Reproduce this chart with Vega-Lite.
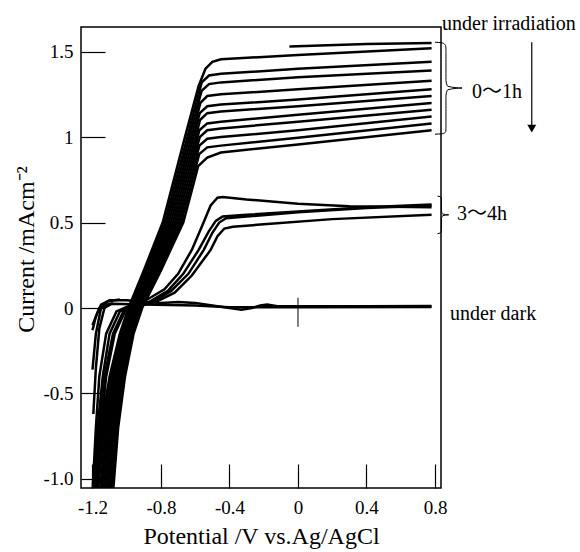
{
  "$schema": "https://vega.github.io/schema/vega-lite/v6.json",
  "width": 360,
  "height": 461,
  "autosize": "none",
  "padding": {"left": 81, "top": 27, "right": 139, "bottom": 64},
  "background": "white",
  "config": {
    "view": {"stroke": "black", "strokeWidth": 1.5},
    "axis": {
      "domain": false, "grid": false, "tickColor": "black", "tickWidth": 1.2, "tickSize": -24,
      "labelFont": "Liberation Serif", "labelFontSize": 19, "labelColor": "black",
      "titleFont": "Liberation Serif", "titleFontSize": 24, "titleFontWeight": "normal", "titleColor": "black"
    }
  },
  "datasets": {
    "curves": [
      {"c":"i0","o":1,"x":-1.19,"y":-1.08},{"c":"i0","o":2,"x":-1.15,"y":-0.7},{"c":"i0","o":3,"x":-1.10,"y":-0.4},{"c":"i0","o":4,"x":-1.04,"y":-0.15},{"c":"i0","o":5,"x":-0.99,"y":0},{"c":"i0","o":6,"x":-0.90,"y":0.22},{"c":"i0","o":7,"x":-0.79,"y":0.5},{"c":"i0","o":8,"x":-0.66,"y":1.0},{"c":"i0","o":9,"x":-0.58,"y":1.3},{"c":"i0","o":10,"x":-0.54,"y":1.40},{"c":"i0","o":11,"x":-0.50,"y":1.44},{"c":"i0","o":12,"x":-0.45,"y":1.455},{"c":"i0","o":13,"x":0,"y":1.48},{"c":"i0","o":14,"x":0.78,"y":1.52},
      {"c":"i0b","o":1,"x":-0.05,"y":1.53},{"c":"i0b","o":2,"x":0.4,"y":1.545},{"c":"i0b","o":3,"x":0.78,"y":1.55},
      {"c":"i1","o":1,"x":-1.18,"y":-1.08},{"c":"i1","o":2,"x":-1.14,"y":-0.7},{"c":"i1","o":3,"x":-1.09,"y":-0.4},{"c":"i1","o":4,"x":-1.03,"y":-0.15},{"c":"i1","o":5,"x":-0.98,"y":0},{"c":"i1","o":6,"x":-0.89,"y":0.22},{"c":"i1","o":7,"x":-0.778,"y":0.5},{"c":"i1","o":8,"x":-0.646,"y":1.0},{"c":"i1","o":9,"x":-0.589,"y":1.22},{"c":"i1","o":10,"x":-0.562,"y":1.32},{"c":"i1","o":11,"x":-0.52,"y":1.36},{"c":"i1","o":12,"x":-0.45,"y":1.37},{"c":"i1","o":13,"x":0,"y":1.40},{"c":"i1","o":14,"x":0.78,"y":1.44},
      {"c":"i2","o":1,"x":-1.17,"y":-1.08},{"c":"i2","o":2,"x":-1.13,"y":-0.7},{"c":"i2","o":3,"x":-1.08,"y":-0.4},{"c":"i2","o":4,"x":-1.024,"y":-0.15},{"c":"i2","o":5,"x":-0.974,"y":0},{"c":"i2","o":6,"x":-0.88,"y":0.22},{"c":"i2","o":7,"x":-0.766,"y":0.5},{"c":"i2","o":8,"x":-0.634,"y":1.0},{"c":"i2","o":9,"x":-0.590,"y":1.17},{"c":"i2","o":10,"x":-0.563,"y":1.27},{"c":"i2","o":11,"x":-0.52,"y":1.31},{"c":"i2","o":12,"x":-0.45,"y":1.32},{"c":"i2","o":13,"x":0,"y":1.35},{"c":"i2","o":14,"x":0.78,"y":1.39},
      {"c":"i3","o":1,"x":-1.157,"y":-1.08},{"c":"i3","o":2,"x":-1.12,"y":-0.7},{"c":"i3","o":3,"x":-1.073,"y":-0.4},{"c":"i3","o":4,"x":-1.016,"y":-0.15},{"c":"i3","o":5,"x":-0.966,"y":0},{"c":"i3","o":6,"x":-0.87,"y":0.22},{"c":"i3","o":7,"x":-0.754,"y":0.5},{"c":"i3","o":8,"x":-0.622,"y":1.0},{"c":"i3","o":9,"x":-0.596,"y":1.10},{"c":"i3","o":10,"x":-0.570,"y":1.20},{"c":"i3","o":11,"x":-0.53,"y":1.24},{"c":"i3","o":12,"x":-0.45,"y":1.25},{"c":"i3","o":13,"x":0,"y":1.28},{"c":"i3","o":14,"x":0.78,"y":1.33},
      {"c":"i4","o":1,"x":-1.146,"y":-1.08},{"c":"i4","o":2,"x":-1.11,"y":-0.7},{"c":"i4","o":3,"x":-1.064,"y":-0.4},{"c":"i4","o":4,"x":-1.008,"y":-0.15},{"c":"i4","o":5,"x":-0.958,"y":0},{"c":"i4","o":6,"x":-0.86,"y":0.22},{"c":"i4","o":7,"x":-0.742,"y":0.5},{"c":"i4","o":8,"x":-0.663,"y":0.8},{"c":"i4","o":9,"x":-0.600,"y":1.04},{"c":"i4","o":10,"x":-0.574,"y":1.14},{"c":"i4","o":11,"x":-0.53,"y":1.18},{"c":"i4","o":12,"x":-0.45,"y":1.19},{"c":"i4","o":13,"x":0,"y":1.22},{"c":"i4","o":14,"x":0.78,"y":1.28},
      {"c":"i5","o":1,"x":-1.135,"y":-1.08},{"c":"i5","o":2,"x":-1.10,"y":-0.7},{"c":"i5","o":3,"x":-1.055,"y":-0.4},{"c":"i5","o":4,"x":-1.0,"y":-0.15},{"c":"i5","o":5,"x":-0.95,"y":0},{"c":"i5","o":6,"x":-0.85,"y":0.22},{"c":"i5","o":7,"x":-0.73,"y":0.5},{"c":"i5","o":8,"x":-0.651,"y":0.8},{"c":"i5","o":9,"x":-0.598,"y":1.0},{"c":"i5","o":10,"x":-0.572,"y":1.10},{"c":"i5","o":11,"x":-0.53,"y":1.14},{"c":"i5","o":12,"x":-0.45,"y":1.15},{"c":"i5","o":13,"x":0,"y":1.18},{"c":"i5","o":14,"x":0.78,"y":1.24},
      {"c":"i6","o":1,"x":-1.124,"y":-1.08},{"c":"i6","o":2,"x":-1.09,"y":-0.7},{"c":"i6","o":3,"x":-1.046,"y":-0.4},{"c":"i6","o":4,"x":-0.992,"y":-0.15},{"c":"i6","o":5,"x":-0.942,"y":0},{"c":"i6","o":6,"x":-0.84,"y":0.22},{"c":"i6","o":7,"x":-0.718,"y":0.5},{"c":"i6","o":8,"x":-0.639,"y":0.8},{"c":"i6","o":9,"x":-0.602,"y":0.94},{"c":"i6","o":10,"x":-0.576,"y":1.04},{"c":"i6","o":11,"x":-0.53,"y":1.08},{"c":"i6","o":12,"x":-0.45,"y":1.09},{"c":"i6","o":13,"x":0,"y":1.13},{"c":"i6","o":14,"x":0.78,"y":1.20},
      {"c":"i7","o":1,"x":-1.113,"y":-1.08},{"c":"i7","o":2,"x":-1.08,"y":-0.7},{"c":"i7","o":3,"x":-1.037,"y":-0.4},{"c":"i7","o":4,"x":-0.984,"y":-0.15},{"c":"i7","o":5,"x":-0.934,"y":0},{"c":"i7","o":6,"x":-0.83,"y":0.22},{"c":"i7","o":7,"x":-0.706,"y":0.5},{"c":"i7","o":8,"x":-0.627,"y":0.8},{"c":"i7","o":9,"x":-0.601,"y":0.90},{"c":"i7","o":10,"x":-0.574,"y":1.00},{"c":"i7","o":11,"x":-0.53,"y":1.04},{"c":"i7","o":12,"x":-0.45,"y":1.05},{"c":"i7","o":13,"x":0,"y":1.09},{"c":"i7","o":14,"x":0.78,"y":1.16},
      {"c":"i8","o":1,"x":-1.102,"y":-1.08},{"c":"i8","o":2,"x":-1.07,"y":-0.7},{"c":"i8","o":3,"x":-1.028,"y":-0.4},{"c":"i8","o":4,"x":-0.976,"y":-0.15},{"c":"i8","o":5,"x":-0.926,"y":0},{"c":"i8","o":6,"x":-0.82,"y":0.22},{"c":"i8","o":7,"x":-0.694,"y":0.5},{"c":"i8","o":8,"x":-0.615,"y":0.8},{"c":"i8","o":9,"x":-0.576,"y":0.95},{"c":"i8","o":10,"x":-0.53,"y":0.99},{"c":"i8","o":11,"x":-0.45,"y":1.00},{"c":"i8","o":12,"x":0,"y":1.04},{"c":"i8","o":13,"x":0.78,"y":1.12},
      {"c":"i9","o":1,"x":-1.091,"y":-1.08},{"c":"i9","o":2,"x":-1.06,"y":-0.7},{"c":"i9","o":3,"x":-1.019,"y":-0.4},{"c":"i9","o":4,"x":-0.968,"y":-0.15},{"c":"i9","o":5,"x":-0.918,"y":0},{"c":"i9","o":6,"x":-0.81,"y":0.22},{"c":"i9","o":7,"x":-0.682,"y":0.5},{"c":"i9","o":8,"x":-0.603,"y":0.8},{"c":"i9","o":9,"x":-0.577,"y":0.90},{"c":"i9","o":10,"x":-0.53,"y":0.94},{"c":"i9","o":11,"x":-0.45,"y":0.95},{"c":"i9","o":12,"x":0,"y":0.996},{"c":"i9","o":13,"x":0.78,"y":1.08},
      {"c":"i10","o":1,"x":-1.08,"y":-1.08},{"c":"i10","o":2,"x":-1.05,"y":-0.7},{"c":"i10","o":3,"x":-1.01,"y":-0.4},{"c":"i10","o":4,"x":-0.96,"y":-0.15},{"c":"i10","o":5,"x":-0.91,"y":0},{"c":"i10","o":6,"x":-0.80,"y":0.22},{"c":"i10","o":7,"x":-0.67,"y":0.5},{"c":"i10","o":8,"x":-0.609,"y":0.73},{"c":"i10","o":9,"x":-0.583,"y":0.83},{"c":"i10","o":10,"x":-0.53,"y":0.88},{"c":"i10","o":11,"x":-0.45,"y":0.91},{"c":"i10","o":12,"x":0,"y":0.957},{"c":"i10","o":13,"x":0.78,"y":1.04},
      {"c":"h0","o":1,"x":-1.20,"y":-1.08},{"c":"h0","o":2,"x":-1.18,"y":-0.7},{"c":"h0","o":3,"x":-1.16,"y":-0.4},{"c":"h0","o":4,"x":-1.12,"y":-0.15},{"c":"h0","o":5,"x":-1.06,"y":-0.02},{"c":"h0","o":6,"x":-0.97,"y":0.02},{"c":"h0","o":7,"x":-0.88,"y":0.05},{"c":"h0","o":8,"x":-0.78,"y":0.11},{"c":"h0","o":9,"x":-0.70,"y":0.20},{"c":"h0","o":10,"x":-0.62,"y":0.34},{"c":"h0","o":11,"x":-0.56,"y":0.48},{"c":"h0","o":12,"x":-0.51,"y":0.60},{"c":"h0","o":13,"x":-0.47,"y":0.645},{"c":"h0","o":14,"x":-0.44,"y":0.65},{"c":"h0","o":15,"x":-0.30,"y":0.635},{"c":"h0","o":16,"x":0,"y":0.61},{"c":"h0","o":17,"x":0.3,"y":0.595},{"c":"h0","o":18,"x":0.78,"y":0.59},
      {"c":"h1","o":1,"x":-1.19,"y":-1.08},{"c":"h1","o":2,"x":-1.17,"y":-0.7},{"c":"h1","o":3,"x":-1.14,"y":-0.4},{"c":"h1","o":4,"x":-1.10,"y":-0.15},{"c":"h1","o":5,"x":-1.04,"y":-0.02},{"c":"h1","o":6,"x":-0.95,"y":0.01},{"c":"h1","o":7,"x":-0.86,"y":0.04},{"c":"h1","o":8,"x":-0.76,"y":0.10},{"c":"h1","o":9,"x":-0.67,"y":0.20},{"c":"h1","o":10,"x":-0.58,"y":0.34},{"c":"h1","o":11,"x":-0.52,"y":0.45},{"c":"h1","o":12,"x":-0.48,"y":0.51},{"c":"h1","o":13,"x":-0.44,"y":0.535},{"c":"h1","o":14,"x":-0.30,"y":0.545},{"c":"h1","o":15,"x":0,"y":0.565},{"c":"h1","o":16,"x":0.4,"y":0.59},{"c":"h1","o":17,"x":0.78,"y":0.605},
      {"c":"h2","o":1,"x":-1.18,"y":-1.08},{"c":"h2","o":2,"x":-1.16,"y":-0.7},{"c":"h2","o":3,"x":-1.13,"y":-0.4},{"c":"h2","o":4,"x":-1.08,"y":-0.15},{"c":"h2","o":5,"x":-1.02,"y":-0.02},{"c":"h2","o":6,"x":-0.94,"y":0.01},{"c":"h2","o":7,"x":-0.84,"y":0.04},{"c":"h2","o":8,"x":-0.74,"y":0.10},{"c":"h2","o":9,"x":-0.64,"y":0.20},{"c":"h2","o":10,"x":-0.55,"y":0.34},{"c":"h2","o":11,"x":-0.50,"y":0.44},{"c":"h2","o":12,"x":-0.46,"y":0.50},{"c":"h2","o":13,"x":-0.42,"y":0.525},{"c":"h2","o":14,"x":-0.30,"y":0.535},{"c":"h2","o":15,"x":0,"y":0.56},{"c":"h2","o":16,"x":0.4,"y":0.585},{"c":"h2","o":17,"x":0.78,"y":0.60},
      {"c":"h3","o":1,"x":-1.17,"y":-1.08},{"c":"h3","o":2,"x":-1.15,"y":-0.7},{"c":"h3","o":3,"x":-1.12,"y":-0.4},{"c":"h3","o":4,"x":-1.07,"y":-0.15},{"c":"h3","o":5,"x":-1.01,"y":-0.02},{"c":"h3","o":6,"x":-0.93,"y":0.01},{"c":"h3","o":7,"x":-0.82,"y":0.04},{"c":"h3","o":8,"x":-0.72,"y":0.09},{"c":"h3","o":9,"x":-0.62,"y":0.19},{"c":"h3","o":10,"x":-0.51,"y":0.34},{"c":"h3","o":11,"x":-0.47,"y":0.42},{"c":"h3","o":12,"x":-0.43,"y":0.465},{"c":"h3","o":13,"x":-0.38,"y":0.475},{"c":"h3","o":14,"x":-0.2,"y":0.49},{"c":"h3","o":15,"x":0.2,"y":0.52},{"c":"h3","o":16,"x":0.78,"y":0.545},
      {"c":"d0","o":1,"x":-1.20,"y":-0.13},{"c":"d0","o":2,"x":-1.18,"y":-0.05},{"c":"d0","o":3,"x":-1.15,"y":0.02},{"c":"d0","o":4,"x":-1.10,"y":0.045},{"c":"d0","o":5,"x":-1.0,"y":0.045},{"c":"d0","o":6,"x":-0.9,"y":0.035},{"c":"d0","o":7,"x":-0.8,"y":0.03},{"c":"d0","o":8,"x":-0.7,"y":0.035},{"c":"d0","o":9,"x":-0.6,"y":0.03},{"c":"d0","o":10,"x":-0.5,"y":0.015},{"c":"d0","o":11,"x":-0.4,"y":0.0},{"c":"d0","o":12,"x":-0.33,"y":-0.01},{"c":"d0","o":13,"x":-0.27,"y":0.0},{"c":"d0","o":14,"x":-0.22,"y":0.015},{"c":"d0","o":15,"x":-0.18,"y":0.02},{"c":"d0","o":16,"x":-0.12,"y":0.01},{"c":"d0","o":17,"x":0,"y":0.01},{"c":"d0","o":18,"x":0.4,"y":0.01},{"c":"d0","o":19,"x":0.78,"y":0.012},
      {"c":"d1","o":1,"x":-1.20,"y":-0.10},{"c":"d1","o":2,"x":-1.16,"y":0.0},{"c":"d1","o":3,"x":-1.10,"y":0.025},{"c":"d1","o":4,"x":-0.9,"y":0.02},{"c":"d1","o":5,"x":-0.6,"y":0.015},{"c":"d1","o":6,"x":-0.4,"y":0.005},{"c":"d1","o":7,"x":0,"y":0.005},{"c":"d1","o":8,"x":0.78,"y":0.006},
      {"c":"k0","o":1,"x":-1.20,"y":-0.36},{"c":"k0","o":2,"x":-1.18,"y":-0.15},{"c":"k0","o":3,"x":-1.15,"y":0.0},{"c":"k0","o":4,"x":-1.11,"y":0.04},{"c":"k0","o":5,"x":-1.04,"y":0.05},
      {"c":"k1","o":1,"x":-1.195,"y":-0.62},{"c":"k1","o":2,"x":-1.18,"y":-0.35},{"c":"k1","o":3,"x":-1.16,"y":-0.12},{"c":"k1","o":4,"x":-1.13,"y":0.0},{"c":"k1","o":5,"x":-1.08,"y":0.03}
    ],
    "vtick": [{"x":0,"y":0.06},{"x":0,"y":-0.11}],
    "braces": [
      {"b":"a","o":1,"x":0.80,"y":1.555},{"b":"a","o":2,"x":0.845,"y":1.55},{"b":"a","o":3,"x":0.862,"y":1.535},{"b":"a","o":4,"x":0.864,"y":1.51},{"b":"a","o":5,"x":0.864,"y":1.33},{"b":"a","o":6,"x":0.875,"y":1.297},{"b":"a","o":7,"x":0.958,"y":1.287},{"b":"a","o":8,"x":0.875,"y":1.277},{"b":"a","o":9,"x":0.864,"y":1.245},{"b":"a","o":10,"x":0.864,"y":1.05},{"b":"a","o":11,"x":0.862,"y":1.03},{"b":"a","o":12,"x":0.845,"y":1.02},{"b":"a","o":13,"x":0.80,"y":1.017},
      {"b":"b","o":1,"x":0.815,"y":0.655},{"b":"b","o":2,"x":0.832,"y":0.65},{"b":"b","o":3,"x":0.838,"y":0.635},{"b":"b","o":4,"x":0.838,"y":0.565},{"b":"b","o":5,"x":0.845,"y":0.55},{"b":"b","o":6,"x":0.88,"y":0.545},{"b":"b","o":7,"x":0.845,"y":0.54},{"b":"b","o":8,"x":0.838,"y":0.525},{"b":"b","o":9,"x":0.838,"y":0.455},{"b":"b","o":10,"x":0.832,"y":0.44},{"b":"b","o":11,"x":0.815,"y":0.435}
    ],
    "arrow": [{"x":1.365,"y":1.555,"y2":1.07}],
    "head": [{"x":1.365,"y":1.05}],
    "labels": [
      {"t":"under irradiation","x":0.841,"y":1.66},
      {"t":"0～1h","x":1.016,"y":1.264},
      {"t":"3～4h","x":0.929,"y":0.548},
      {"t":"under dark","x":0.888,"y":-0.035}
    ]
  },
  "encoding": {
    "x": {"field": "x", "type": "quantitative",
      "scale": {"domain": [-1.267, 0.835], "nice": false, "zero": false},
      "axis": {"title": "Potential /V vs.Ag/AgCl", "values": [-1.2, -0.8, -0.4, 0, 0.4, 0.8], "labelPadding": 34, "titlePadding": 7,
        "labelExpr": "datum.value == 0 ? '0' : datum.value < 0 ? '-' + format(-datum.value, '.1f') : format(datum.value, '.1f')"}},
    "y": {"field": "y", "type": "quantitative",
      "scale": {"domain": [-1.053, 1.644], "nice": false, "zero": false},
      "axis": {"title": "Current /mAcm⁻²", "values": [-1, -0.5, 0, 0.5, 1, 1.5], "labelPadding": 32, "titlePadding": 4, "titleY": 222,
        "labelExpr": "datum.value == 1.5 ? '1.5' : datum.value == 1 ? '1' : datum.value == 0.5 ? '0.5' : datum.value == 0 ? '0' : datum.value == -0.5 ? '-0.5' : '-1.0'"}}
  },
  "layer": [
    {
      "data": {"name": "curves"},
      "mark": {"type": "line", "clip": true, "color": "black", "strokeWidth": 2.5},
      "encoding": {
        "detail": {"field": "c", "type": "nominal"},
        "order": {"field": "o", "type": "quantitative"}
      }
    },
    {
      "data": {"name": "vtick"},
      "mark": {"type": "line", "color": "black", "strokeWidth": 1},
      "encoding": {}
    },
    {
      "data": {"name": "braces"},
      "mark": {"type": "line", "color": "black", "strokeWidth": 1, "clip": false, "interpolate": "monotone"},
      "encoding": {
        "detail": {"field": "b", "type": "nominal"},
        "order": {"field": "o", "type": "quantitative"}
      }
    },
    {
      "data": {"name": "arrow"},
      "mark": {"type": "rule", "color": "black", "strokeWidth": 1.2, "clip": false},
      "encoding": {
        "y2": {"field": "y2"}
      }
    },
    {
      "data": {"name": "head"},
      "mark": {"type": "point", "shape": "triangle-down", "filled": true, "color": "black", "size": 80, "opacity": 1, "clip": false},
      "encoding": {}
    },
    {
      "data": {"name": "labels"},
      "mark": {"type": "text", "align": "left", "baseline": "middle", "font": "Liberation Serif, Noto Sans CJK JP", "fontSize": 20, "color": "black", "clip": false},
      "encoding": {
        "text": {"field": "t", "type": "nominal"}
      }
    }
  ]
}
